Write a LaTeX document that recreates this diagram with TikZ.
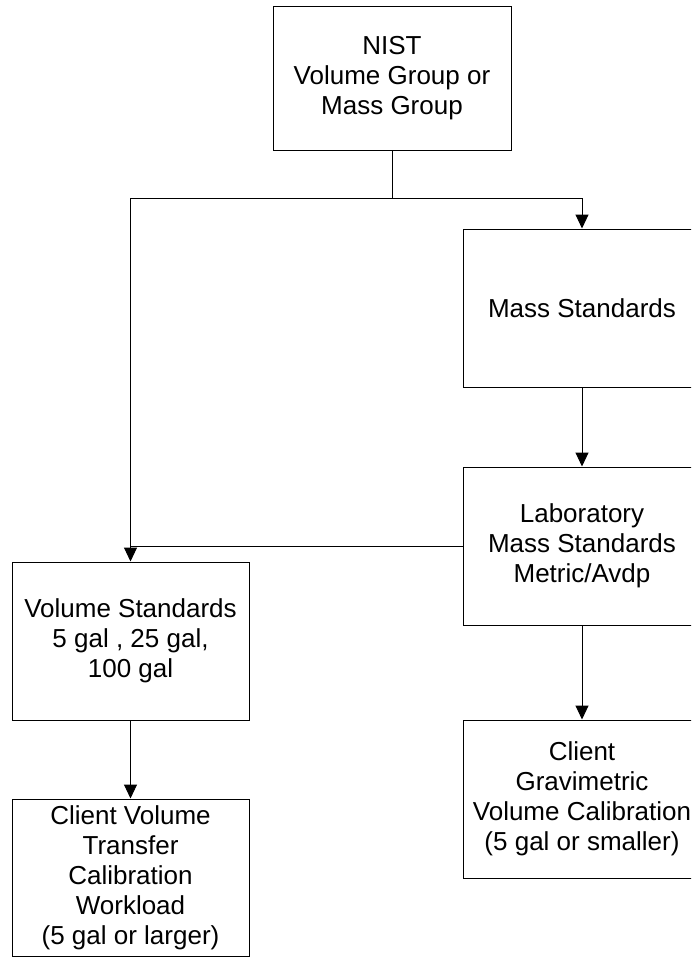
\documentclass[tikz,border=0pt]{standalone}
\usepackage{fontspec}
\setmainfont{Liberation Sans}
\usetikzlibrary{arrows.meta}
\begin{document}
\begin{tikzpicture}[x=1pt,y=-1pt,
    box/.style={draw,line width=1pt,minimum width=238pt,minimum height=158pt,
      inner sep=0pt,align=center,font=\fontsize{26}{30}\selectfont}]
      \path[use as bounding box,clip] (0,0) rectangle (691,958);
      \draw[line width=1pt]
        (392,78.5) node[box,minimum height=143pt] (nist){NIST\\Volume Group or\\Mass Group}
        (582,308) node[box] (mass){Mass Standards}
        (582,546) node[box] (lab){Laboratory\\Mass Standards\\Metric/Avdp}
        (130.5,641) node[box,minimum width=237pt] (vol){Volume Standards\\5 gal , 25 gal,\\100 gal}
        (130.5,877.5) node[box,minimum width=237pt,minimum height=157pt] (cvol){Client Volume\\Transfer\\Calibration\\Workload\\(5 gal or larger)}
        (582,799) node[box] (grav){Client\\Gravimetric\\Volume Calibration\\(5 gal or smaller)};
      \coordinate (split) at (392,198);
      \begin{scope}[line width=1pt,-{Triangle[length=14pt,width=13pt]}]
        \draw[-] (nist) to (split);
        \draw (split) -| (mass);
        \draw (split) -| (vol);
        \draw[-] (lab.west) -- (lab.west -| vol.north);
        \draw (mass) to (lab);
        \draw (vol) to (cvol);
        \draw (lab) to (grav);
      \end{scope}
    \end{tikzpicture}
\end{document}
